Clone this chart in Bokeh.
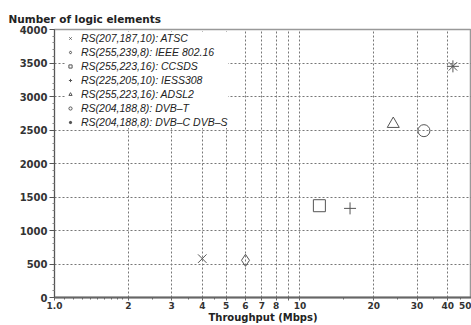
from bokeh.plotting import figure
from bokeh.models import FixedTicker, Legend, LegendItem
from bokeh.embed import file_html
from bokeh.resources import INLINE

# ---- data ----
codes = ["RS(207,187,10): ATSC", "RS(255,239,8): IEEE 802.16", "RS(255,223,16): CCSDS",
         "RS(225,205,10): IESS308", "RS(255,223,16): ADSL2", "RS(204,188,8): DVB\u2013T",
         "RS(204,188,8): DVB\u2013C DVB\u2013S"]
throughput = [4.0, 6.0, 12.0, 16.0, 24.0, 32.0, 42.0]
logic_elements = [580, 555, 1370, 1330, 2590, 2490, 3450]
markers = ["x", "diamond", "square", "cross", "triangle", "circle", "asterisk"]

x_ticks = [1, 2, 3, 4, 5, 6, 7, 8, 9, 10, 20, 30, 40, 50]
x_tick_labels = ["1.0", "2", "3", "4", "5", "6", "7", "8", "", "10", "20", "30", "40", "50"]
x_grid = [2, 3, 4, 5, 6, 7, 8, 9, 10, 20, 30, 40]
y_ticks = [0, 500, 1000, 1500, 2000, 2500, 3000, 3500, 4000]
y_grid = [500, 1000, 1500, 2000, 2500, 3000, 3500]
x_min, x_max = 1.0, 50.0
y_min, y_max = 0, 4000

p = figure(width=471, height=325, x_axis_type="log",
           x_range=(x_min, x_max), y_range=(y_min, y_max),
           output_backend="svg", toolbar_location=None)
p.min_border_left = 54
p.min_border_right = 0
p.min_border_top = 29
p.min_border_bottom = 28
p.background_fill_color = "white"
p.border_fill_color = "white"
p.outline_line_color = "#999999"
p.outline_line_width = 1.5

# title
p.title.text = "Number of logic elements"
p.title.align = "left"
p.title.offset = -46
p.title.text_font = "DejaVu Sans"
p.title.text_font_style = "bold"
p.title.text_font_size = "10.5px"
p.title.text_color = "#222222"

# grid
p.xgrid.ticker = FixedTicker(ticks=x_grid)
p.ygrid.ticker = FixedTicker(ticks=y_grid)
for g in (p.xgrid, p.ygrid):
    g.grid_line_color = "#777777"
    g.grid_line_dash = "2 2"
    g.grid_line_width = 1

# x axis
minor_x = [1.1, 1.2, 1.3, 1.4, 1.5, 1.6, 1.7, 1.8, 1.9, 2.5, 3.5, 4.5, 15, 25, 35, 45]
p.xaxis.ticker = FixedTicker(ticks=x_ticks, minor_ticks=minor_x)
p.xaxis.major_label_overrides = {t: l for t, l in zip(x_ticks, x_tick_labels)}
p.xaxis.axis_line_color = "#666666"
p.xaxis.axis_line_width = 2
p.xaxis.major_tick_in = 0
p.xaxis.major_tick_out = 3
p.xaxis.minor_tick_in = 0
p.xaxis.minor_tick_out = 2
p.xaxis.major_tick_line_color = "#666666"
p.xaxis.minor_tick_line_color = "#666666"
p.xaxis.major_label_standoff = 1
p.xaxis.major_label_text_font = "DejaVu Sans"
p.xaxis.major_label_text_font_style = "bold"
p.xaxis.major_label_text_font_size = "9px"
p.xaxis.major_label_text_color = "#333333"
p.xaxis.axis_label = "Throughput (Mbps)"
p.xaxis.axis_label_standoff = 0
p.xaxis.axis_label_text_font = "DejaVu Sans"
p.xaxis.axis_label_text_font_style = "bold"
p.xaxis.axis_label_text_font_size = "10px"
p.xaxis.axis_label_text_color = "#222222"

# y axis
minor_y = [v for v in range(100, 4000, 100) if v % 500 != 0]
p.yaxis.ticker = FixedTicker(ticks=y_ticks, minor_ticks=minor_y)
p.yaxis.axis_line_color = "#555555"
p.yaxis.axis_line_width = 1
p.yaxis.major_tick_in = 0
p.yaxis.major_tick_out = 5
p.yaxis.minor_tick_in = 0
p.yaxis.minor_tick_out = 2
p.yaxis.major_tick_line_color = "#555555"
p.yaxis.minor_tick_line_color = "#888888"
p.yaxis.major_label_standoff = 2
p.yaxis.major_label_text_font = "DejaVu Sans"
p.yaxis.major_label_text_font_style = "bold"
p.yaxis.major_label_text_font_size = "10px"
p.yaxis.major_label_text_color = "#333333"

# data
items = []
for name, xv, yv, m in zip(codes, throughput, logic_elements, markers):
    r = p.scatter([xv], [yv], marker=m, size=12, line_color="#555555",
                  fill_color=None, line_width=1)
    items.append(LegendItem(label=name, renderers=[r]))

legend = Legend(items=items, location=(12, 169), margin=0, padding=0, spacing=2,
                glyph_width=8, glyph_height=12, label_height=12, label_standoff=7,
                background_fill_color="white", background_fill_alpha=1.0,
                border_line_alpha=0,
                label_text_font="Liberation Sans", label_text_font_style="italic",
                label_text_font_size="10.5px", label_text_color="#222222")
p.add_layout(legend, "center")

open("out.html", "w").write(file_html(p, INLINE))
